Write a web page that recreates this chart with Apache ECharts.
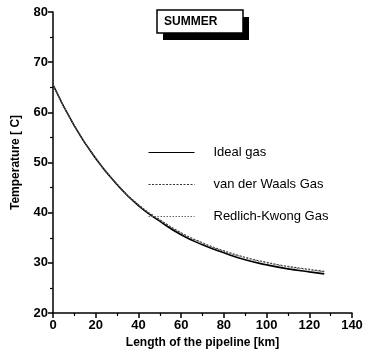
<!DOCTYPE html>
<html><head><meta charset="utf-8">
<script src="https://cdn.jsdelivr.net/npm/echarts@6/dist/echarts.min.js"></script>
<style>html,body{margin:0;padding:0;background:#fff}#c{width:366px;height:357px}</style>
</head><body><div id="c"></div>
<script>
var lengthKm = [0, 10, 20, 30, 40, 50, 60, 70, 80, 90, 100, 110, 120, 127];
var idealGas = [65.5, 57.3, 50.8, 45.6, 41.4, 38.3, 35.6, 33.6, 32.0, 30.6, 29.6, 28.8, 28.2, 27.8];
var vdwGas   = [65.5, 57.3, 50.9, 45.7, 41.6, 38.6, 36.0, 34.0, 32.4, 31.1, 30.1, 29.3, 28.7, 28.3];
var rkGas    = [65.5, 57.3, 50.9, 45.7, 41.5, 38.5, 35.9, 33.9, 32.3, 31.0, 30.0, 29.2, 28.6, 28.2];
var seriesNames = ['Ideal gas', 'van der Waals Gas', 'Redlich-Kwong Gas'];

function pairs(ys){ return lengthKm.map(function(x,i){ return [x, ys[i]]; }); }

var chart = echarts.init(document.getElementById('c'));
var font = 'Liberation Sans, Arial, sans-serif';
chart.setOption({
  animation: false,
  grid: {left: 53, right: 14, top: 12, bottom: 44},
  xAxis: {
    type: 'value', min: 0, max: 140, interval: 20,
    name: 'Length of the pipeline [km]', nameLocation: 'middle', nameGap: 23,
    nameTextStyle: {fontFamily: font, fontWeight: 'bold', fontSize: 12, color: '#000'},
    axisLine: {lineStyle: {color: '#000', width: 1.5}},
    axisTick: {show: true, length: 5, lineStyle: {color: '#000', width: 1.5}},
    minorTick: {show: true, splitNumber: 2, length: 3, lineStyle: {color: '#000', width: 1.2}},
    axisLabel: {fontFamily: font, fontWeight: 'bold', fontSize: 13, color: '#000', margin: 6},
    splitLine: {show: false}
  },
  yAxis: {
    type: 'value', min: 20, max: 80, interval: 10,
    name: 'Temperature [ C]', nameLocation: 'middle', nameGap: 31, nameRotate: 90,
    nameTextStyle: {fontFamily: font, fontWeight: 'bold', fontSize: 12, color: '#000'},
    axisLine: {show: true, lineStyle: {color: '#000', width: 1.5}},
    axisTick: {show: true, length: 5, lineStyle: {color: '#000', width: 1.5}},
    minorTick: {show: true, splitNumber: 2, length: 3, lineStyle: {color: '#000', width: 1.2}},
    axisLabel: {fontFamily: font, fontWeight: 'bold', fontSize: 13, color: '#000', margin: 5},
    splitLine: {show: false}
  },
  legend: {
    show: true, orient: 'vertical', left: 143, top: 141, itemWidth: 46, itemHeight: 14, itemGap: 19,
    itemStyle: {opacity: 0},
    lineStyle: {width: 1},
    textStyle: {fontFamily: font, fontSize: 13, color: '#000', padding: [0,0,0,14]},
    data: seriesNames
  },
  graphic: [
    {type: 'rect', shape: {x: 163, y: 17, width: 86, height: 23}, style: {fill: '#000'}},
    {type: 'rect', shape: {x: 157, y: 10, width: 86, height: 23}, style: {fill: '#fff', stroke: '#000', lineWidth: 1.5}},
    {type: 'text', style: {x: 164, y: 21.5, text: 'SUMMER', font: 'bold 12px Liberation Sans, Arial, sans-serif', fill: '#000', verticalAlign: 'middle'}}
  ],
  series: [
    {name: seriesNames[0], type: 'line', smooth: true, showSymbol: false, symbol: 'none', data: pairs(idealGas),
     lineStyle: {color: '#000', width: 1.6, type: 'solid'}, itemStyle: {color: '#000'}},
    {name: seriesNames[1], type: 'line', smooth: true, showSymbol: false, symbol: 'none', data: pairs(vdwGas),
     lineStyle: {color: '#333', width: 1.1, type: [2, 1.5]}, itemStyle: {color: '#333'}},
    {name: seriesNames[2], type: 'line', smooth: true, showSymbol: false, symbol: 'none', data: pairs(rkGas),
     lineStyle: {color: '#666', width: 1, type: [1.5, 1.5]}, itemStyle: {color: '#666'}}
  ]
});
</script></body></html>
